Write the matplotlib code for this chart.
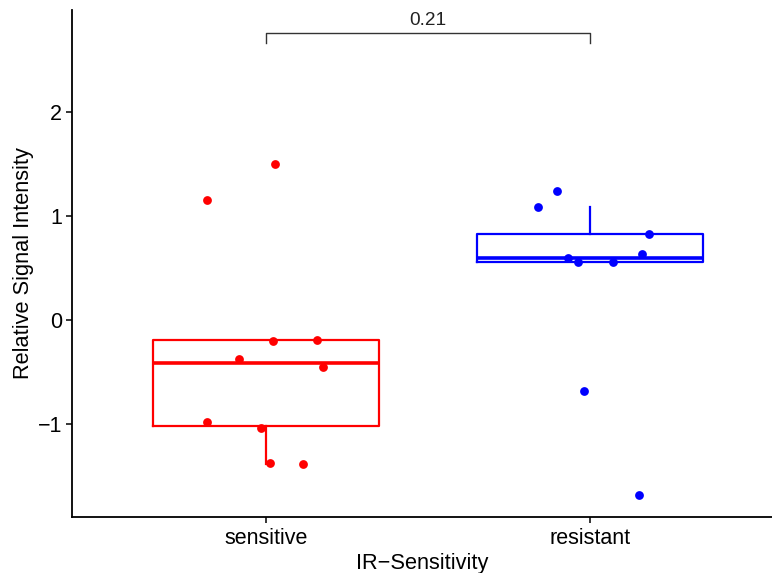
import matplotlib
matplotlib.use("Agg")
import matplotlib.pyplot as plt
import numpy as np

plt.rcParams['font.family'] = ['Liberation Sans', 'DejaVu Sans']

categories = ["sensitive", "resistant"]
sensitive_vals = [1.50, 1.154, -0.199, -0.192, -0.378, -0.455, -0.978, -1.035, -1.372, -1.382]
sensitive_jit = [0.028, -0.181, 0.021, 0.157, -0.084, 0.176, -0.182, -0.016, 0.012, 0.115]
resistant_vals = [1.240, 1.087, 0.824, 0.631, 0.596, 0.558, 0.555, -0.680, -1.683]
resistant_jit = [-0.102, -0.160, 0.182, 0.160, -0.069, -0.037, 0.070, -0.019, 0.152]
colors = ["#FF0000", "#0000FF"]
p_label = "0.21"
yticks = [-1, 0, 1, 2]

fig = plt.figure(figsize=(7.72, 5.73), dpi=100)
ax = fig.add_axes([72/772, (573-517)/573, 1 - 72/772, (517-10)/573])

data = [sensitive_vals, resistant_vals]
jits = [sensitive_jit, resistant_jit]
for i, (vals, jit, c) in enumerate(zip(data, jits, colors)):
    pos = i + 1
    ax.boxplot([vals], positions=[pos], widths=0.70, showfliers=False, showcaps=False,
               whis=1.5, manage_ticks=False,
               boxprops=dict(color=c, linewidth=1.6),
               whiskerprops=dict(color=c, linewidth=1.6),
               medianprops=dict(color=c, linewidth=2.6, solid_capstyle='butt'))
    ax.scatter(pos + np.array(jit), vals, s=40, color=c, zorder=3, linewidths=0)

# significance bracket
yb, yt = 2.66, 2.763
ax.plot([1, 1, 2, 2], [yb, yt, yt, yb], color="#333333", lw=1.0, clip_on=False)
ax.text(1.5, yt + 0.03, p_label, ha='center', va='bottom', fontsize=13.7, color='#222222')

ax.set_xlim(0.401, 2.562)
ax.set_ylim(-1.894, 2.98)
ax.set_xticks([1, 2])
ax.set_xticklabels(categories)
ax.set_yticks(yticks)
ax.set_yticklabels([str(t).replace('-', '\u2212') for t in yticks])
ax.tick_params(axis='both', labelsize=15.5, length=4, width=1.1, colors='black', pad=3)
ax.tick_params(axis='x', pad=4)
for s in ['top', 'right']:
    ax.spines[s].set_visible(False)
for s in ['left', 'bottom']:
    ax.spines[s].set_linewidth(1.3)
ax.set_xlabel("IR\u2212Sensitivity", fontsize=15.7, labelpad=2.5)
ax.set_ylabel("Relative Signal Intensity", fontsize=15.7, labelpad=3)

fig.savefig("out.png", dpi=100)
